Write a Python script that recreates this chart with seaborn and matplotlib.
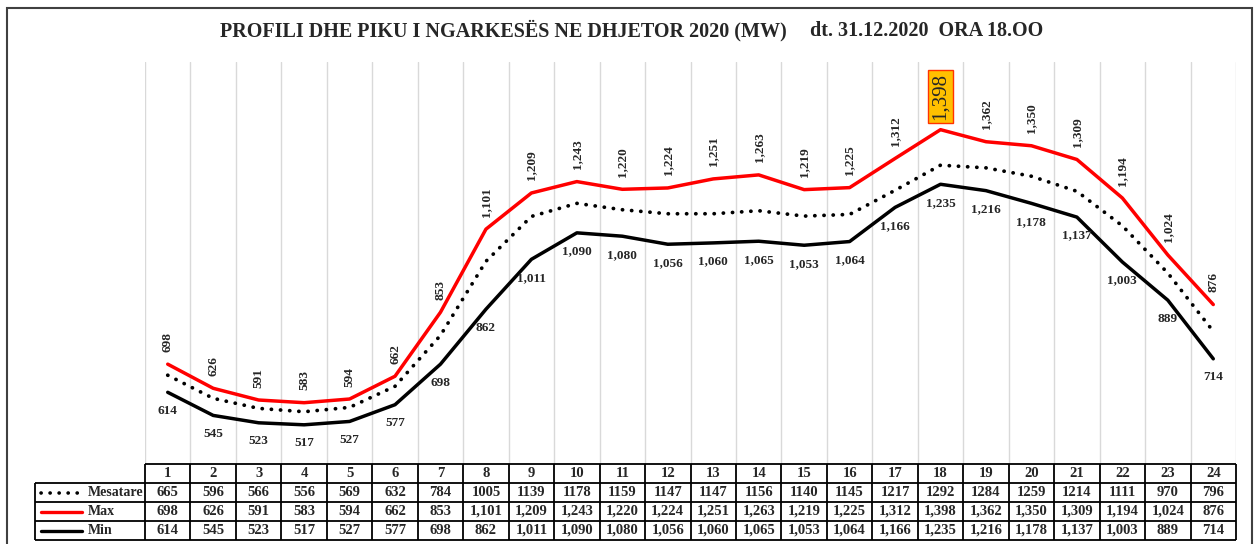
import matplotlib
matplotlib.use("Agg")
import numpy as np
import pandas as pd
import matplotlib.pyplot as plt
import seaborn as sns
from matplotlib.patches import Rectangle

# Hourly load profile, December 2020 (MW)
hours = list(range(1, 25))
mesatare = [665, 596, 566, 556, 569, 632, 784, 1005, 1139, 1178, 1159, 1147,
            1147, 1156, 1140, 1145, 1217, 1292, 1284, 1259, 1214, 1111, 970, 796]
maksimum = [698, 626, 591, 583, 594, 662, 853, 1101, 1209, 1243, 1220, 1224,
            1251, 1263, 1219, 1225, 1312, 1398, 1362, 1350, 1309, 1194, 1024, 876]
minimum = [614, 545, 523, 517, 527, 577, 698, 862, 1011, 1090, 1080, 1056,
           1060, 1065, 1053, 1064, 1166, 1235, 1216, 1178, 1137, 1003, 889, 714]
series_names = ["Mesatare", "Max", "Min"]
title_main = "PROFILI DHE PIKU I NGARKESËS NE DHJETOR 2020 (MW)"
title_date = "dt. 31.12.2020  ORA 18.OO"

sns.set_theme(style="white")
plt.rcParams["font.family"] = ["Liberation Serif", "DejaVu Serif"]

W, H = 1254, 544
fig = plt.figure(figsize=(W / 100, H / 100), dpi=100)
fig.patch.set_facecolor("white")


def box(x0, y0, x1, y1):
    return [x0 / W, 1 - y1 / H, (x1 - x0) / W, (y1 - y0) / H]


# ---- line chart ----
ax = fig.add_axes(box(145, 62, 1236, 464))
df = pd.DataFrame({"hour": hours, "Mesatare": mesatare, "Max": maksimum, "Min": minimum})

sns.lineplot(data=df, x="hour", y="Mesatare", ax=ax, color="black", lw=2.7,
             linestyle=(0, (0.05, 2.4)), dash_capstyle="round", zorder=3)
sns.lineplot(data=df, x="hour", y="Max", ax=ax, color="#FF0000", lw=2.5, zorder=3)
sns.lineplot(data=df, x="hour", y="Min", ax=ax, color="black", lw=2.5, zorder=3)

ax.set_xlim(0.5, 24.5)
ax.set_ylim(400, 1600)
ax.set_xticks(np.arange(0.5, 25, 1))
ax.set_yticks([])
ax.grid(axis="x", color="#d9d9d9", lw=1)
ax.grid(axis="y", visible=False)
ax.tick_params(length=0, labelbottom=False, labelleft=False)
ax.set_xlabel("")
ax.set_ylabel("")
for s in ax.spines.values():
    s.set_visible(False)

peak = max(maksimum)
for h, v in zip(hours, maksimum):
    if v == peak:
        ax.annotate(f"{v:,}", (h, v), xytext=(0, 7), textcoords="offset points",
                    rotation=90, ha="center", va="bottom", fontsize=15,
                    bbox=dict(boxstyle="square,pad=0.15", fc="#FFC000",
                              ec="#FF3300", lw=1), zorder=5)
    else:
        ax.annotate(f"{v:,}", (h, v), xytext=(0, 9), textcoords="offset points",
                    rotation=90, ha="center", va="bottom", fontsize=9.5,
                    fontweight="bold", zorder=5)

for h, v in zip(hours, minimum):
    ax.annotate(f"{v:,}", (h, v), xytext=(0, -9), textcoords="offset points",
                ha="center", va="top", fontsize=9.5, fontweight="bold", zorder=5)

# ---- data table ----
col_px = (1236 - 145) / 24
lab_w = (145 - 35) / col_px
left = 0.5 - lab_w
tax = fig.add_axes(box(35, 464, 1236, 540))
tax.set_xlim(left, 24.5)
tax.set_ylim(4, 0)
tax.axis("off")

lc = "black"
lw_t = 1.3
tax.hlines(0, 0.5, 24.5, color=lc, lw=lw_t, clip_on=False)
for r in (1, 2, 3, 4):
    tax.hlines(r, left, 24.5, color=lc, lw=lw_t, clip_on=False)
tax.vlines(left, 1, 4, color=lc, lw=lw_t, clip_on=False)
for c in np.arange(0.5, 25, 1):
    tax.vlines(c, 0, 4, color=lc, lw=lw_t, clip_on=False)

fs_t = 10.5
for h in hours:
    tax.text(h, 0.5, str(h), ha="center", va="center", fontsize=fs_t, fontweight="bold")

rows = [
    (series_names[0], mesatare, lambda v: str(v)),
    (series_names[1], maksimum, lambda v: f"{v:,}"),
    (series_names[2], minimum, lambda v: f"{v:,}"),
]
for i, (name, vals, fmt) in enumerate(rows):
    y = i + 1.5
    for h, v in zip(hours, vals):
        tax.text(h, y, fmt(v), ha="center", va="center", fontsize=fs_t, fontweight="bold")
    tax.text(left + 53 / col_px, y, name, ha="left", va="center",
             fontsize=10, fontweight="bold")

k0, k1 = left + 6 / col_px, left + 47 / col_px
tax.plot([k0, k1], [1.5, 1.5], color="black", lw=2.6,
         linestyle=(0, (0.05, 2.45)), dash_capstyle="round", clip_on=False)
tax.plot([k0, k1], [2.5, 2.5], color="#FF0000", lw=2.4, clip_on=False)
tax.plot([k0, k1], [3.5, 3.5], color="black", lw=2.4, clip_on=False)

# ---- title and frame ----
fig.text(220 / W, 1 - 31 / H, title_main, ha="left", va="center",
         fontsize=14.5, fontweight="bold")
fig.text(810 / W, 1 - 31 / H, title_date, ha="left", va="center",
         fontsize=14.5, fontweight="bold")

fig.patches.append(Rectangle((7 / W, -0.02), (1252 - 7) / W, 1 - 8 / H + 0.02,
                             transform=fig.transFigure, fill=False,
                             ec="#404040", lw=1.5))

fig.savefig("out.png", dpi=100)
